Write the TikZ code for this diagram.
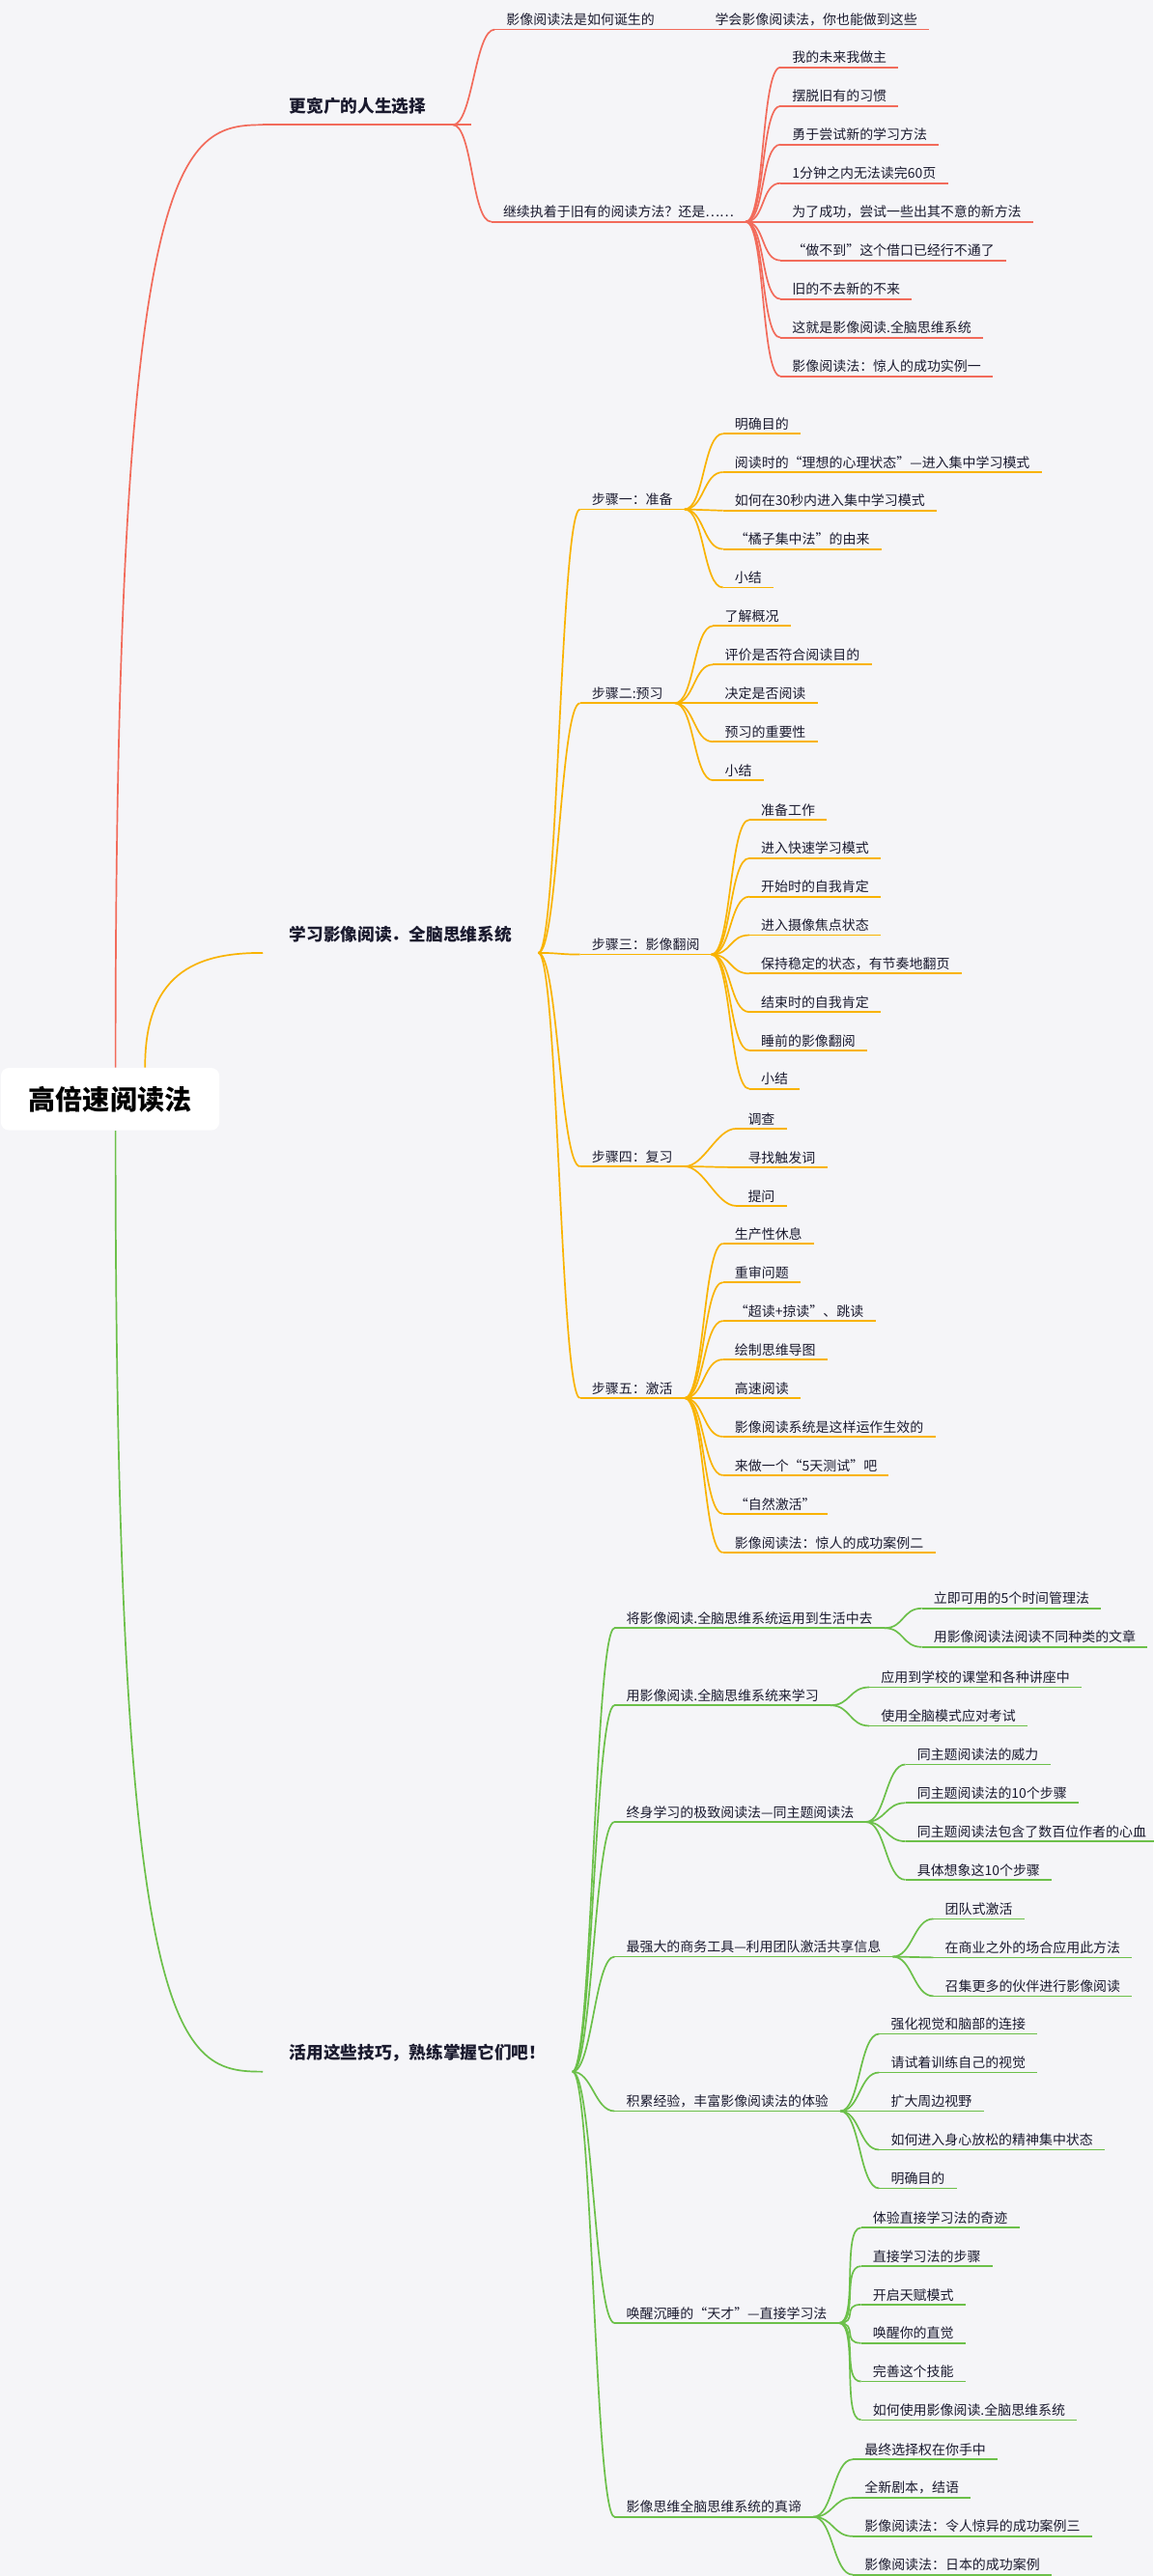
\documentclass[tikz,border=0pt]{standalone}
\usepackage{fontspec}
\setmainfont{Noto Sans CJK SC}
\usetikzlibrary{calc}
\definecolor{bg}{HTML}{F5F5F8}
\definecolor{redb}{HTML}{F26B5B}
\definecolor{orab}{HTML}{F9B301}
\definecolor{greb}{HTML}{6CC04A}
\definecolor{ink}{HTML}{1A1A2E}

\tikzset{
  leaf/.style={anchor=south west, inner xsep=7pt, inner ysep=2pt, text=ink,
    font=\fontsize{8.2}{10}\selectfont},
  trunk/.style={leaf, inner xsep=16pt, inner ysep=6pt, font=\fontsize{10.4}{12}\bfseries\selectfont},
  branch/.style={line width=1pt},
}
% #1 parent, #2 name, #3 x, #4 y, #5 text
\newcommand\twig[5]{%
  \node[leaf] (#2) at (#3,{#4}) {#5};
  \draw[branch] (#2.south west) -- (#2.south east);
  \draw[branch] (#1.south east) .. controls +(12,0) and +(-12,0) .. (#2.south west);
}

\begin{document}
\begin{tikzpicture}[x=1pt, y=-1pt]
  \fill[bg] (0,0) rectangle (702,1568);
  \useasboundingbox (0,0) rectangle (702,1568);

  % root
  \node[fill=white, rounded corners=5pt, minimum width=133pt, minimum height=38pt,
    font=\fontsize{16.5}{18}\bfseries\selectfont, text=black] (root) at (67,669) {高倍速阅读法};

  % red branch
  \begin{scope}[redb]
    \node[trunk] (m1) at (160,76) {更宽广的人生选择};
    \draw[branch] (m1.south west) -- (287,76);
    \draw[branch] ($(root.north west)+(70,0)$) .. controls (70,90) and (110,76) .. (m1.south west);
    \twig{m1}{r1}{301}{18}{影像阅读法是如何诞生的}
    \twig{r1}{r11}{428}{18}{学会影像阅读法，你也能做到这些}
    \twig{m1}{r2}{299}{135}{继续执着于旧有的阅读方法？还是……}
    \foreach \t [count=\i] in {我的未来我做主, 摆脱旧有的习惯, 勇于尝试新的学习方法,
      1分钟之内无法读完60页, 为了成功，尝试一些出其不意的新方法, “做不到”这个借口已经行不通了,
      旧的不去新的不来, 这就是影像阅读.全脑思维系统, 影像阅读法：惊人的成功实例一}
      {\twig{r2}{r2\i}{475}{41+(\i-1)*23.5}{\t}}
  \end{scope}

  % orange branch
  \begin{scope}[orab]
    \node[trunk] (m2) at (160,580) {学习影像阅读．全脑思维系统};
    \draw[branch] ($(root.north west)+(88,0)$) .. controls (88,588) and (125,580) .. (m2.south west);
    \twig{m2}{s1}{353}{310}{步骤一：准备}
    \twig{m2}{s2}{353}{428}{步骤二:预习}
    \twig{m2}{s3}{353}{581}{步骤三：影像翻阅}
    \twig{m2}{s4}{353}{710}{步骤四：复习}
    \twig{m2}{s5}{353}{851}{步骤五：激活}
    \foreach \t [count=\i] in {明确目的, 阅读时的“理想的心理状态”—进入集中学习模式,
      如何在30秒内进入集中学习模式, “橘子集中法”的由来, 小结}
      {\twig{s1}{s1\i}{440}{264+(\i-1)*23.4}{\t}}
    \foreach \t [count=\i] in {了解概况, 评价是否符合阅读目的, 决定是否阅读, 预习的重要性, 小结}
      {\twig{s2}{s2\i}{434}{381+(\i-1)*23.5}{\t}}
    \foreach \t [count=\i] in {准备工作, 进入快速学习模式, 开始时的自我肯定, 进入摄像焦点状态,
      保持稳定的状态，有节奏地翻页, 结束时的自我肯定, 睡前的影像翻阅, 小结}
      {\twig{s3}{s3\i}{456}{499+(\i-1)*23.4}{\t}}
    \foreach \t [count=\i] in {调查, 寻找触发词, 提问}
      {\twig{s4}{s4\i}{448}{687+(\i-1)*23.5}{\t}}
    \foreach \t [count=\i] in {生产性休息, 重审问题, “超读+掠读”、跳读, 绘制思维导图, 高速阅读,
      影像阅读系统是这样运作生效的, 来做一个“5天测试”吧, “自然激活”, 影像阅读法：惊人的成功案例二}
      {\twig{s5}{s5\i}{440}{757+(\i-1)*23.5}{\t}}
  \end{scope}

  % green branch
  \begin{scope}[greb]
    \node[trunk] (m3) at (160,1261) {活用这些技巧，熟练掌握它们吧！};
    \draw[branch] ($(root.south west)+(70,0)$) .. controls (70,1250) and (110,1261) .. (m3.south west);
    \twig{m3}{g1}{374}{991}{将影像阅读.全脑思维系统运用到生活中去}
    \twig{m3}{g2}{374}{1038}{用影像阅读.全脑思维系统来学习}
    \twig{m3}{g3}{374}{1109}{终身学习的极致阅读法—同主题阅读法}
    \twig{m3}{g4}{374}{1191}{最强大的商务工具—利用团队激活共享信息}
    \twig{m3}{g5}{374}{1285}{积累经验，丰富影像阅读法的体验}
    \twig{m3}{g6}{374}{1414}{唤醒沉睡的“天才”—直接学习法}
    \twig{m3}{g7}{374}{1532}{影像思维全脑思维系统的真谛}
    \foreach \t [count=\i] in {立即可用的5个时间管理法, 用影像阅读法阅读不同种类的文章}
      {\twig{g1}{g1\i}{561}{979+(\i-1)*23.5}{\t}}
    \foreach \t [count=\i] in {应用到学校的课堂和各种讲座中, 使用全脑模式应对考试}
      {\twig{g2}{g2\i}{529}{1027+(\i-1)*23.5}{\t}}
    \foreach \t [count=\i] in {同主题阅读法的威力, 同主题阅读法的10个步骤,
      同主题阅读法包含了数百位作者的心血, 具体想象这10个步骤}
      {\twig{g3}{g3\i}{551}{1074+(\i-1)*23.4}{\t}}
    \foreach \t [count=\i] in {团队式激活, 在商业之外的场合应用此方法, 召集更多的伙伴进行影像阅读}
      {\twig{g4}{g4\i}{568}{1168+(\i-1)*23.5}{\t}}
    \foreach \t [count=\i] in {强化视觉和脑部的连接, 请试着训练自己的视觉, 扩大周边视野,
      如何进入身心放松的精神集中状态, 明确目的}
      {\twig{g5}{g5\i}{535}{1238+(\i-1)*23.5}{\t}}
    \foreach \t [count=\i] in {体验直接学习法的奇迹, 直接学习法的步骤, 开启天赋模式, 唤醒你的直觉,
      完善这个技能, 如何使用影像阅读.全脑思维系统}
      {\twig{g6}{g6\i}{524}{1356+(\i-1)*23.4}{\t}}
    \foreach \t [count=\i] in {最终选择权在你手中, 全新剧本，结语, 影像阅读法：令人惊异的成功案例三,
      影像阅读法：日本的成功案例}
      {\twig{g7}{g7\i}{519}{1497+(\i-1)*23.4}{\t}}
  \end{scope}
\end{tikzpicture}
\end{document}
